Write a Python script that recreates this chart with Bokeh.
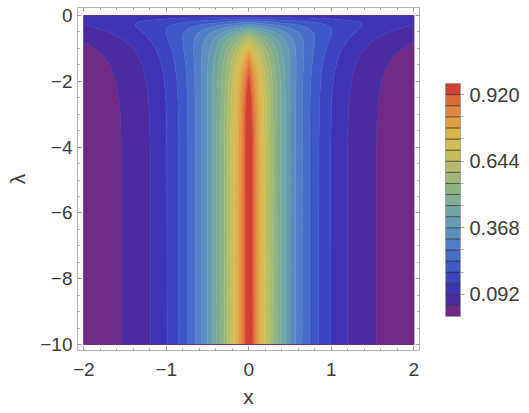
import numpy as np
from bokeh.plotting import figure
from bokeh.models import (Range1d, LinearAxis, SingleIntervalTicker, FixedTicker,
                          NumeralTickFormatter)
from bokeh.layouts import row
from bokeh.embed import file_html
from bokeh.resources import INLINE

# ---------------- data ----------------
# positive half of the x grid (the picture is symmetric in x)
x_pos = [0.0, 0.05, 0.1, 0.2, 0.3, 0.4, 0.5, 0.6, 0.7, 0.8, 0.9, 1.0,
         1.1, 1.2, 1.3, 1.4, 1.5, 1.6, 1.7, 1.8, 1.9, 2.0]
# lambda rows (ascending)
lam = [-10, -4, -3, -2.6, -2.3, -2.0, -1.8, -1.6, -1.4, -1.2, -1.0,
       -0.85, -0.7, -0.55, -0.4, -0.3, -0.2, -0.1, -0.04, 0.0]
# estimated values for each lambda row, at x_pos
z_half = [
    [1.000, 0.905, 0.819, 0.670, 0.549, 0.449, 0.368, 0.301, 0.247, 0.202, 0.165, 0.135, 0.111, 0.091, 0.074, 0.061, 0.050, 0.041, 0.033, 0.027, 0.022, 0.018],
    [0.996, 0.901, 0.816, 0.669, 0.548, 0.449, 0.368, 0.302, 0.247, 0.202, 0.166, 0.136, 0.111, 0.091, 0.075, 0.061, 0.050, 0.041, 0.034, 0.028, 0.023, 0.019],
    [0.984, 0.892, 0.808, 0.664, 0.545, 0.448, 0.368, 0.302, 0.248, 0.204, 0.168, 0.138, 0.113, 0.093, 0.076, 0.063, 0.051, 0.042, 0.035, 0.029, 0.023, 0.019],
    [0.972, 0.882, 0.800, 0.659, 0.542, 0.447, 0.368, 0.303, 0.249, 0.205, 0.169, 0.139, 0.115, 0.094, 0.078, 0.064, 0.053, 0.043, 0.036, 0.029, 0.024, 0.020],
    [0.957, 0.870, 0.790, 0.653, 0.539, 0.445, 0.368, 0.304, 0.251, 0.207, 0.171, 0.141, 0.117, 0.096, 0.080, 0.066, 0.054, 0.045, 0.037, 0.031, 0.025, 0.021],
    [0.935, 0.852, 0.776, 0.643, 0.534, 0.443, 0.367, 0.305, 0.253, 0.209, 0.174, 0.144, 0.120, 0.099, 0.082, 0.068, 0.057, 0.047, 0.039, 0.032, 0.027, 0.022],
    [0.915, 0.835, 0.762, 0.635, 0.529, 0.440, 0.367, 0.305, 0.254, 0.212, 0.176, 0.147, 0.122, 0.102, 0.085, 0.071, 0.059, 0.049, 0.041, 0.034, 0.028, 0.024],
    [0.888, 0.813, 0.744, 0.623, 0.521, 0.437, 0.365, 0.306, 0.256, 0.215, 0.180, 0.150, 0.126, 0.105, 0.088, 0.074, 0.062, 0.052, 0.043, 0.036, 0.030, 0.025],
    [0.853, 0.783, 0.719, 0.607, 0.511, 0.431, 0.364, 0.307, 0.258, 0.218, 0.184, 0.155, 0.131, 0.110, 0.093, 0.078, 0.066, 0.056, 0.047, 0.040, 0.033, 0.028],
    [0.807, 0.744, 0.687, 0.584, 0.497, 0.423, 0.360, 0.306, 0.261, 0.222, 0.189, 0.161, 0.137, 0.116, 0.099, 0.084, 0.072, 0.061, 0.052, 0.044, 0.038, 0.032],
    [0.746, 0.693, 0.643, 0.554, 0.477, 0.411, 0.354, 0.305, 0.263, 0.226, 0.195, 0.168, 0.145, 0.125, 0.107, 0.092, 0.080, 0.069, 0.059, 0.051, 0.044, 0.038],
    [0.689, 0.643, 0.600, 0.523, 0.456, 0.397, 0.346, 0.302, 0.263, 0.229, 0.200, 0.174, 0.152, 0.132, 0.115, 0.100, 0.087, 0.076, 0.066, 0.058, 0.050, 0.044],
    [0.618, 0.581, 0.546, 0.483, 0.427, 0.377, 0.334, 0.295, 0.261, 0.230, 0.204, 0.180, 0.159, 0.141, 0.124, 0.110, 0.097, 0.086, 0.076, 0.067, 0.059, 0.052],
    [0.532, 0.505, 0.479, 0.431, 0.387, 0.348, 0.313, 0.282, 0.254, 0.228, 0.205, 0.185, 0.166, 0.149, 0.134, 0.121, 0.109, 0.098, 0.088, 0.079, 0.071, 0.064],
    [0.428, 0.411, 0.394, 0.362, 0.332, 0.306, 0.281, 0.258, 0.237, 0.218, 0.200, 0.184, 0.169, 0.156, 0.143, 0.131, 0.121, 0.111, 0.102, 0.094, 0.086, 0.079],
    [0.349, 0.337, 0.326, 0.305, 0.285, 0.267, 0.249, 0.233, 0.218, 0.204, 0.190, 0.178, 0.166, 0.156, 0.145, 0.136, 0.127, 0.119, 0.111, 0.104, 0.097, 0.091],
    [0.264, 0.257, 0.251, 0.240, 0.228, 0.218, 0.207, 0.198, 0.189, 0.180, 0.171, 0.163, 0.156, 0.148, 0.141, 0.135, 0.129, 0.123, 0.117, 0.111, 0.106, 0.101],
    [0.177, 0.175, 0.173, 0.169, 0.164, 0.160, 0.156, 0.152, 0.148, 0.145, 0.141, 0.137, 0.134, 0.130, 0.127, 0.124, 0.121, 0.118, 0.115, 0.112, 0.109, 0.106],
    [0.129, 0.128, 0.128, 0.126, 0.125, 0.124, 0.122, 0.121, 0.120, 0.119, 0.117, 0.116, 0.115, 0.114, 0.112, 0.111, 0.110, 0.109, 0.108, 0.107, 0.105, 0.104],
    [0.100, 0.100, 0.100, 0.100, 0.100, 0.100, 0.100, 0.100, 0.100, 0.100, 0.100, 0.100, 0.100, 0.100, 0.100, 0.100, 0.100, 0.100, 0.100, 0.100, 0.100, 0.100],
]

levels = [0.0, 0.046, 0.092, 0.138, 0.184, 0.23, 0.276, 0.322, 0.368, 0.414,
          0.46, 0.506, 0.552, 0.598, 0.644, 0.69, 0.736, 0.782, 0.828, 0.874,
          0.92, 1.01]
cbar_top = 0.966  # upper end of the colour bar
band_colors = ["#702A85", "#4B2BA0", "#4033B3", "#3D44C0", "#3F58C7", "#476CCA",
               "#507FC8", "#5A90C0", "#659CB2", "#71A5A2", "#7FAC93", "#8FB284",
               "#A1B777", "#B3BB6A", "#C4BD5E", "#D2BC54", "#DCB24C", "#E19F45",
               "#E2863F", "#DD6839", "#D33F30"]

x_tick_labels = {-2: "\u22122", -1: "\u22121", 0: "0", 1: "1", 2: "2"}
y_tick_labels = {0: "0", -2: "\u22122", -4: "\u22124", -6: "\u22126", -8: "\u22128", -10: "\u221210"}
cbar_ticks = [0.092, 0.368, 0.644, 0.920]
cbar_minor = [0.184, 0.276, 0.46, 0.552, 0.736, 0.828]

# ---------------- build full symmetric grid ----------------
x_full = [-v for v in reversed(x_pos[1:])] + x_pos
Z = np.array([list(reversed(r[1:])) + r for r in z_half])

FONT = "Liberation Sans"
TXT = "#3c3c3c"
FRAME = "#b4b4b4"
TICK = "#9a9a9a"
H = 413
FT, FB = 7, 350      # frame top / bottom (pixels)
BT, BB = FT, H - FB  # shared top / bottom borders

p = figure(width=430, height=H,
           x_range=Range1d(-2.076, 2.069), y_range=Range1d(-10.182, 0.243),
           x_axis_location=None, y_axis_location=None,
           min_border_left=77, min_border_right=11, min_border_top=BT, min_border_bottom=BB,
           output_backend="svg", toolbar_location=None)
p.outline_line_color = None
p.grid.visible = False
p.background_fill_color = "white"
p.border_fill_color = "white"

line_cols = [band_colors[min(i, len(band_colors) - 1)] for i in range(len(levels))]
p.contour(x=x_full, y=lam, z=Z, levels=levels,
          fill_color=band_colors, line_color=line_cols, line_width=0.8)

# thin dark border around the data region
p.quad(left=[x_full[0]], right=[x_full[-1]], bottom=[lam[0]], top=[lam[-1]],
       fill_color=None, line_color="#55297f", line_width=1.2, line_alpha=0.9)


def style_axis(ax, show_labels, standoff):
    ax.axis_line_color = FRAME
    ax.axis_line_width = 1
    ax.major_tick_line_color = TICK
    ax.minor_tick_line_color = TICK
    ax.major_tick_in = 4
    ax.major_tick_out = 0
    ax.minor_tick_in = 2
    ax.minor_tick_out = 0
    ax.major_label_standoff = standoff
    if show_labels:
        ax.major_label_text_font = FONT
        ax.major_label_text_font_size = "19px"
        ax.major_label_text_color = TXT
        ax.axis_label_text_font = FONT
        ax.axis_label_text_font_size = "21px"
        ax.axis_label_text_font_style = "normal"
        ax.axis_label_text_color = TXT
    else:
        ax.major_label_text_font_size = "0px"
        ax.major_label_text_alpha = 0


for loc in ["below", "above"]:
    ax = LinearAxis(ticker=SingleIntervalTicker(interval=1, num_minor_ticks=5))
    show = loc == "below"
    style_axis(ax, show, 12 if show else 0)
    if show:
        ax.major_label_overrides = x_tick_labels
        ax.axis_label = "x"
        ax.axis_label_standoff = 6
    p.add_layout(ax, loc)

for loc in ["left", "right"]:
    ax = LinearAxis(ticker=SingleIntervalTicker(interval=2, num_minor_ticks=4))
    show = loc == "left"
    style_axis(ax, show, 5 if show else 0)
    if show:
        ax.major_label_overrides = y_tick_labels
        ax.axis_label = "\u03bb"
        ax.axis_label_standoff = 8
    p.add_layout(ax, loc)

# ---------------- colour bar ----------------
# frame spans the same height as the main plot; bar sits inside it
BAR_TOP, BAR_BOT = 83, 316
ppu = (BAR_BOT - BAR_TOP) / cbar_top
cb = figure(width=99, height=H, x_range=Range1d(0, 1),
            y_range=Range1d(-(FB - BAR_BOT) / ppu, cbar_top + (BAR_TOP - FT) / ppu),
            x_axis_location=None, y_axis_location=None,
            min_border_left=15, min_border_right=69, min_border_top=BT, min_border_bottom=BB,
            output_backend="svg", toolbar_location=None)
cb.grid.visible = False
cb.outline_line_color = None
cb.background_fill_color = "white"
tops = levels[1:-1] + [cbar_top]
cb.quad(left=0, right=1, bottom=levels[:-1], top=tops, fill_color=band_colors,
        line_color="#2a2a2a", line_alpha=0.55, line_width=1)
cb.quad(left=[0], right=[1], bottom=[levels[0]], top=[cbar_top],
        fill_color=None, line_color="#999999", line_width=1)
cax = LinearAxis(ticker=FixedTicker(ticks=cbar_ticks, minor_ticks=cbar_minor),
                 formatter=NumeralTickFormatter(format="0.000"))
cax.axis_line_color = None
cax.major_tick_line_color = "#aaaaaa"
cax.minor_tick_line_color = "#aaaaaa"
cax.major_tick_out = 4
cax.major_tick_in = 0
cax.minor_tick_out = 3
cax.minor_tick_in = 0
cax.major_label_standoff = 5
cax.major_label_text_font = FONT
cax.major_label_text_font_size = "20px"
cax.major_label_text_color = TXT
cb.add_layout(cax, "right")

layout = row(p, cb)
open("out.html", "w").write(file_html(layout, INLINE))
